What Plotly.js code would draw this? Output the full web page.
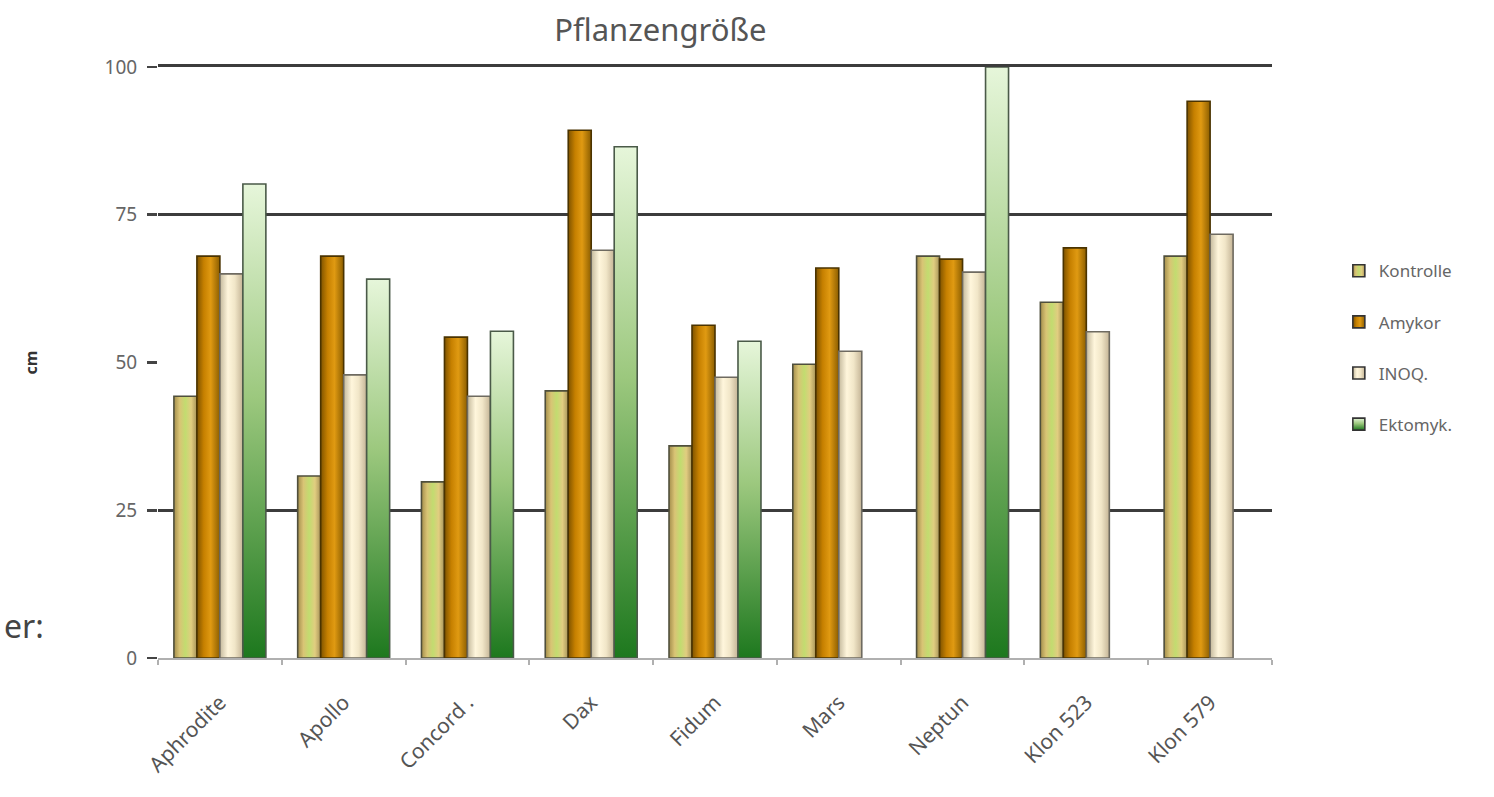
<!DOCTYPE html>
<html>
<head>
<meta charset="utf-8">
<script src="https://cdn.plot.ly/plotly-3.0.1.min.js"></script>
<style>
html,body{margin:0;padding:0;background:#fff;}
#chart{width:1494px;height:797px;}
</style>
</head>
<body>
<div id="chart"></div>
<script>
// ---- data ----
const categories = ["Aphrodite", "Apollo", "Concord .", "Dax", "Fidum", "Mars", "Neptun", "Klon 523", "Klon 579"];
const seriesNames = ["Kontrolle", "Amykor", "INOQ.", "Ektomyk."];
const kontrolle = [44.3, 30.8, 29.8, 45.2, 35.9, 49.7, 68.0, 60.2, 68.0];
const amykor    = [68.0, 68.0, 54.3, 89.3, 56.3, 66.0, 67.5, 69.4, 94.2];
const inoq      = [65.0, 47.9, 44.3, 69.0, 47.5, 51.9, 65.3, 55.2, 71.7];
const ektomyk   = [80.2, 64.1, 55.3, 86.5, 53.6, null, 100.0, null, null];
const yTickVals = [0, 25, 50, 75, 100];
const yTickText = ["0", "25", "50", "75", "100"];
const gridVals  = [25, 75];

const seriesValues = [kontrolle, amykor, inoq, ektomyk];
const baseColors = ["#cfcf78", "#c98300", "#efe4c6", "#7fb866"];
const lineColors = ["#4f4f3c", "#4a3300", "#6e6a60", "#4a5a48"];

const traces = seriesValues.map((vals, i) => ({
  type: "bar",
  name: seriesNames[i],
  x: categories,
  y: vals,
  legendgroup: "g" + i,
  marker: { color: baseColors[i], line: { color: lineColors[i], width: 1.6 } },
  hoverinfo: "x+y+name"
}));
// empty helper traces so the grid-only axes are drawn
traces.push({ type: "scatter", x: [], y: [], yaxis: "y2", showlegend: false, hoverinfo: "skip" });
traces.push({ type: "scatter", x: [], y: [], xaxis: "x2", showlegend: false, hoverinfo: "skip" });

const font = "Noto Sans, Open Sans, DejaVu Sans, sans-serif";

const layout = {
  width: 1494, height: 797,
  margin: { l: 158, r: 222, t: 67, b: 139, pad: 0 },
  paper_bgcolor: "#ffffff", plot_bgcolor: "rgba(0,0,0,0)",
  font: { family: font, color: "#555555" },
  title: { text: "Pflanzengröße", font: { size: 31, color: "#555555", family: font },
           xref: "container", x: 0.442, xanchor: "center", yref: "container", y: 0.962, yanchor: "middle" },
  barmode: "group", bargap: 0.257, bargroupgap: 0,
  showlegend: true,
  legend: { x: 1.06, xanchor: "left", y: 0.525, yanchor: "middle", traceorder: "grouped",
            tracegroupgap: 26, font: { size: 17, color: "#666666", family: font },
            itemwidth: 30, bgcolor: "rgba(0,0,0,0)" },
  xaxis: {
    type: "category", showgrid: false, showline: true, linecolor: "#b0b0b0", linewidth: 2,
    ticks: "outside", tickson: "boundaries", ticklen: 5, tickcolor: "#b0b0b0", tickwidth: 2,
    tickangle: -45, ticklabelstandoff: 22,
    tickfont: { size: 21, color: "#555555", family: font }, zeroline: false,
    fixedrange: true
  },
  xaxis2: {
    overlaying: "x", side: "top", range: [0, 1], showline: true, linecolor: "#3c3c3c", linewidth: 3,
    showgrid: false, zeroline: false, showticklabels: false, ticks: "", fixedrange: true
  },
  yaxis: {
    range: [0, 100], tickvals: yTickVals, ticktext: yTickText, showgrid: false, zeroline: false,
    showline: false, ticks: "outside", ticklen: 10, tickcolor: "#444444", tickwidth: 2.6,
    ticklabelstandoff: 6,
    tickfont: { size: 19, color: "#666666", family: font },
    title: { text: "<b>cm</b>", font: { size: 16, color: "#333333", family: font }, standoff: 62 },
    fixedrange: true
  },
  yaxis2: {
    overlaying: "y", side: "left", range: [0, 100], tickvals: gridVals, showticklabels: false,
    showgrid: true, gridcolor: "#3c3c3c", gridwidth: 3, ticks: "", zeroline: false, showline: false,
    layer: "below traces", fixedrange: true
  },
  annotations: [
    { text: "er:", xref: "paper", yref: "paper", x: -0.14, xanchor: "left", y: 0.055, yanchor: "middle",
      showarrow: false, font: { size: 32, color: "#444444", family: font } }
  ]
};

const gradients = [
  { dir: "h", stops: [[0, "#a48e4c"], [0.25, "#d9c475"], [0.5, "#c2dc70"], [0.75, "#e1cd80"], [1, "#a8945a"]] },
  { dir: "h", stops: [[0, "#7e5300"], [0.3, "#c68000"], [0.6, "#e09a12"], [1, "#8c5e00"]] },
  { dir: "h", stops: [[0, "#c4b99c"], [0.35, "#fff6dc"], [0.65, "#f1e6c8"], [1, "#c4b496"]] },
  { dir: "v", stops: [[0, "#e6f6da"], [0.45, "#9cc87e"], [1, "#1d781e"]] }
];

Plotly.newPlot("chart", traces, layout, { displayModeBar: false, staticPlot: true }).then(gd => {
  const svg = gd.querySelector("svg.main-svg");
  const ns = "http://www.w3.org/2000/svg";
  let defs = svg.querySelector("defs");
  if (!defs) { defs = document.createElementNS(ns, "defs"); svg.insertBefore(defs, svg.firstChild); }
  gradients.forEach((g, i) => {
    const lg = document.createElementNS(ns, "linearGradient");
    lg.setAttribute("id", "bargrad" + i);
    lg.setAttribute("x1", "0"); lg.setAttribute("y1", "0");
    lg.setAttribute("x2", g.dir === "h" ? "1" : "0");
    lg.setAttribute("y2", g.dir === "h" ? "0" : "1");
    g.stops.forEach(s => {
      const st = document.createElementNS(ns, "stop");
      st.setAttribute("offset", s[0]);
      st.setAttribute("stop-color", s[1]);
      lg.appendChild(st);
    });
    defs.appendChild(lg);
  });
  const barTraces = gd.querySelectorAll(".barlayer .trace");
  barTraces.forEach((t, i) => {
    t.querySelectorAll("path").forEach(p => { p.style.fill = "url(#bargrad" + i + ")"; });
  });
  const legTraces = gd.querySelectorAll(".legend .traces");
  legTraces.forEach((t, i) => {
    if (i < gradients.length) {
      t.querySelectorAll(".legendpoints path").forEach(p => {
        p.style.fill = "url(#bargrad" + i + ")";
        p.style.stroke = "#333";
      });
    }
  });
});
</script>
</body>
</html>
